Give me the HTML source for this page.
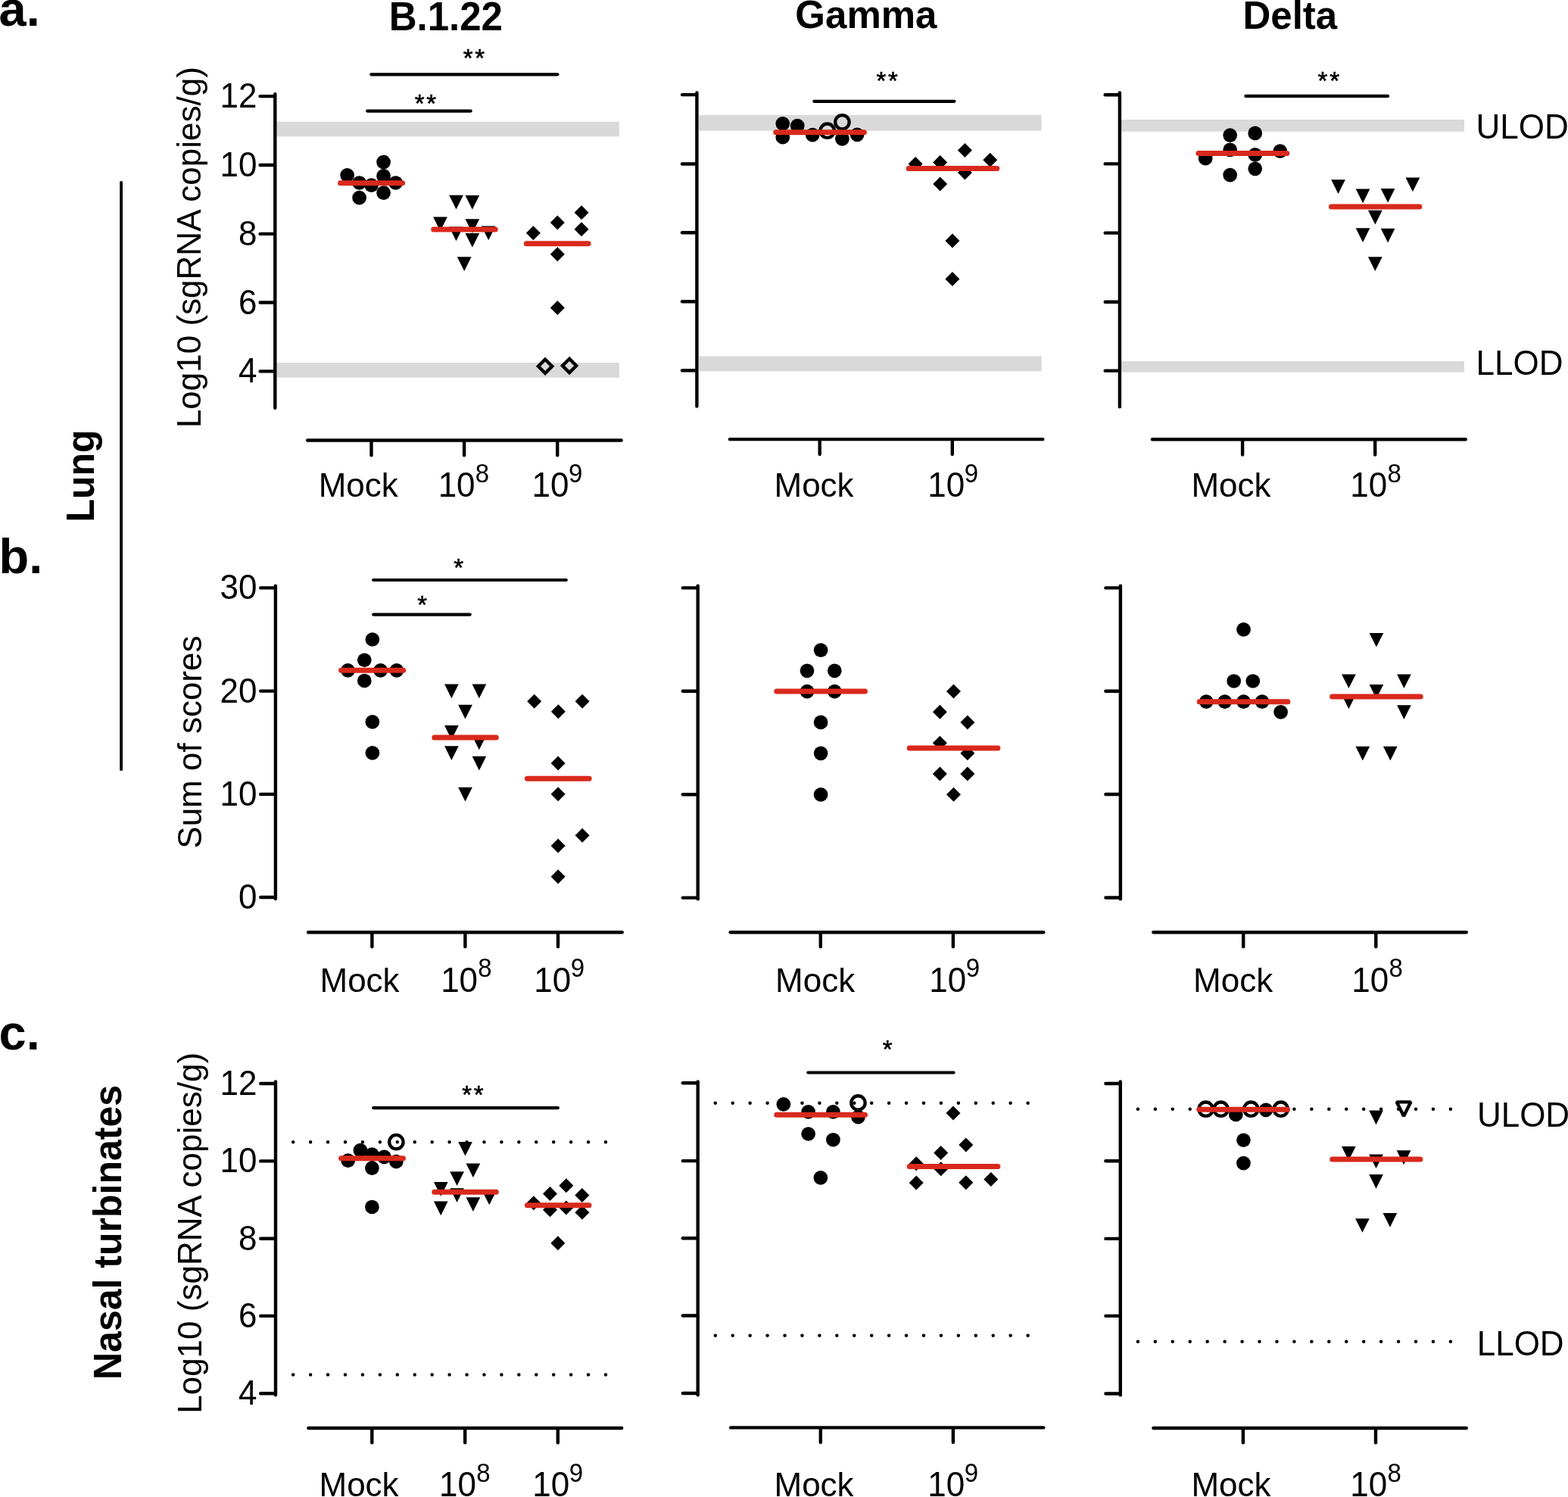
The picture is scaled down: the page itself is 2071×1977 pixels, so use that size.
<!DOCTYPE html>
<html lang="en">
<head>
<meta charset="utf-8">
<title>Figure</title>
<style>
html,body{margin:0;padding:0;background:#fff;}
body{width:2071px;height:1977px;overflow:hidden;}
svg{display:block;}
text{font-family:"Liberation Sans", sans-serif;fill:#000;}
</style>
</head>
<body>
<svg role="img" aria-label="Scatter dot plots of lung and nasal turbinate sgRNA and lung pathology scores for B.1.22, Gamma and Delta" width="2071" height="1977" viewBox="0 0 2071 1977">
<rect x="0" y="0" width="2071" height="1977" fill="#fff"/>
<text x="-1.50" y="34.30" font-size="65" font-weight="bold" text-anchor="start">a.</text>
<text x="-1.50" y="757.20" font-size="65" font-weight="bold" text-anchor="start">b.</text>
<text x="-1.50" y="1385.90" font-size="65" font-weight="bold" text-anchor="start">c.</text>
<text transform="translate(588.80 39.60) scale(1 1.04)" x="0" y="0" font-size="51" font-weight="bold" text-anchor="middle">B.1.22</text>
<text transform="translate(1143.90 37.30) scale(1 1.02)" x="0" y="0" font-size="51" font-weight="bold" text-anchor="middle">Gamma</text>
<text transform="translate(1703.80 37.50) scale(1 1.02)" x="0" y="0" font-size="51" font-weight="bold" text-anchor="middle">Delta</text>
<text transform="rotate(-90 124.00 628.50) translate(124.00 628.50) scale(1 1.02)" x="0" y="0" font-size="50" font-weight="bold" text-anchor="middle">Lung</text>
<line x1="160.10" y1="240.90" x2="160.10" y2="1016.20" stroke="#000" stroke-width="3.8" stroke-linecap="round"/>
<text transform="rotate(-90 159.90 1627.50) translate(159.90 1627.50) scale(1 1.02)" x="0" y="0" font-size="50" font-weight="bold" text-anchor="middle">Nasal turbinates</text>
<text x="264.70" y="565.10" font-size="44" text-anchor="start" transform="rotate(-90 264.70 565.10)">Log10 (sgRNA copies/g)</text>
<text x="265.70" y="1120.70" font-size="44" text-anchor="start" transform="rotate(-90 265.70 1120.70)">Sum of scores</text>
<text x="265.70" y="1866.80" font-size="44" text-anchor="start" transform="rotate(-90 265.70 1866.80)">Log10 (sgRNA copies/g)</text>
<text transform="translate(1949.60 182.80) scale(1 1.04)" x="0" y="0" font-size="44" text-anchor="start">ULOD</text>
<text transform="translate(1949.50 494.60) scale(1 1.04)" x="0" y="0" font-size="44" text-anchor="start">LLOD</text>
<text transform="translate(1950.90 1488.20) scale(1 1.04)" x="0" y="0" font-size="44" text-anchor="start">ULOD</text>
<text transform="translate(1950.70 1789.80) scale(1 1.04)" x="0" y="0" font-size="44" text-anchor="start">LLOD</text>
<rect x="365.50" y="160.70" width="452.40" height="19.70" fill="#d9d9d9"/>
<rect x="365.50" y="479.00" width="452.40" height="19.70" fill="#d9d9d9"/>
<line x1="363.30" y1="124.30" x2="363.30" y2="538.70" stroke="#000" stroke-width="4.4" stroke-linecap="round"/>
<line x1="343.60" y1="127.10" x2="362.30" y2="127.10" stroke="#000" stroke-width="4.4" stroke-linecap="round"/>
<line x1="343.60" y1="218.00" x2="362.30" y2="218.00" stroke="#000" stroke-width="4.4" stroke-linecap="round"/>
<line x1="343.60" y1="308.90" x2="362.30" y2="308.90" stroke="#000" stroke-width="4.4" stroke-linecap="round"/>
<line x1="343.60" y1="399.50" x2="362.30" y2="399.50" stroke="#000" stroke-width="4.4" stroke-linecap="round"/>
<line x1="343.60" y1="490.40" x2="362.30" y2="490.40" stroke="#000" stroke-width="4.4" stroke-linecap="round"/>
<text transform="translate(339.50 142.10) scale(1 1.04)" x="0" y="0" font-size="44" text-anchor="end">12</text>
<text transform="translate(339.50 233.00) scale(1 1.04)" x="0" y="0" font-size="44" text-anchor="end">10</text>
<text transform="translate(339.50 323.90) scale(1 1.04)" x="0" y="0" font-size="44" text-anchor="end">8</text>
<text transform="translate(339.50 414.50) scale(1 1.04)" x="0" y="0" font-size="44" text-anchor="end">6</text>
<text transform="translate(339.50 505.40) scale(1 1.04)" x="0" y="0" font-size="44" text-anchor="end">4</text>
<line x1="406.20" y1="581.50" x2="820.60" y2="581.50" stroke="#000" stroke-width="4.4" stroke-linecap="round"/>
<line x1="490.50" y1="582.40" x2="490.50" y2="601.30" stroke="#000" stroke-width="4.4" stroke-linecap="round"/>
<line x1="613.10" y1="582.40" x2="613.10" y2="601.30" stroke="#000" stroke-width="4.4" stroke-linecap="round"/>
<line x1="736.20" y1="582.40" x2="736.20" y2="601.30" stroke="#000" stroke-width="4.4" stroke-linecap="round"/>
<text x="420.71" y="656.40" font-size="44" text-anchor="start">Mock</text>
<text transform="translate(578.64 656.40) scale(1 1.04)" x="0" y="0" font-size="44">10<tspan dy="-18.8" dx="0.3" font-size="33">8</tspan></text>
<text transform="translate(702.54 656.40) scale(1 1.04)" x="0" y="0" font-size="44">10<tspan dy="-18.8" dx="-0.5" font-size="33">9</tspan></text>
<line x1="490.30" y1="98.30" x2="736.40" y2="98.30" stroke="#000" stroke-width="4.2" stroke-linecap="round"/>
<text x="627.25" y="88.20" font-size="33" text-anchor="middle" letter-spacing="2.7" stroke="#000" stroke-width="0.6">**</text>
<line x1="485.20" y1="146.60" x2="621.70" y2="146.60" stroke="#000" stroke-width="4.2" stroke-linecap="round"/>
<text x="563.25" y="147.70" font-size="33" text-anchor="middle" letter-spacing="2.7" stroke="#000" stroke-width="0.6">**</text>
<circle cx="458.61" cy="231.35" r="9.35" fill="#000"/>
<circle cx="474.60" cy="241.48" r="9.35" fill="#000"/>
<circle cx="490.59" cy="244.67" r="9.35" fill="#000"/>
<circle cx="506.58" cy="214.02" r="9.35" fill="#000"/>
<circle cx="506.58" cy="232.41" r="9.35" fill="#000"/>
<circle cx="506.58" cy="254.54" r="9.35" fill="#000"/>
<circle cx="474.60" cy="261.20" r="9.35" fill="#000"/>
<circle cx="522.57" cy="241.48" r="9.35" fill="#000"/>
<polygon points="593.18,257.73 611.88,257.73 602.53,276.43" fill="#000"/>
<polygon points="614.50,258.00 633.20,258.00 623.85,276.70" fill="#000"/>
<polygon points="572.13,286.52 590.83,286.52 581.48,305.22" fill="#000"/>
<polygon points="614.50,289.19 633.20,289.19 623.85,307.89" fill="#000"/>
<polygon points="635.83,298.51 654.53,298.51 645.18,317.21" fill="#000"/>
<polygon points="593.18,299.58 611.88,299.58 602.53,318.28" fill="#000"/>
<polygon points="614.50,308.11 633.20,308.11 623.85,326.81" fill="#000"/>
<polygon points="603.84,339.29 622.54,339.29 613.19,357.99" fill="#000"/>
<polygon points="704.35,298.34 713.85,307.84 704.35,317.34 694.85,307.84" fill="#000"/>
<polygon points="736.33,284.48 745.83,293.98 736.33,303.48 726.83,293.98" fill="#000"/>
<polygon points="768.05,271.16 777.55,280.66 768.05,290.16 758.55,280.66" fill="#000"/>
<polygon points="768.05,293.28 777.55,302.78 768.05,312.28 758.55,302.78" fill="#000"/>
<polygon points="736.33,326.33 745.83,335.83 736.33,345.33 726.83,335.83" fill="#000"/>
<polygon points="736.33,396.96 745.83,406.46 736.33,415.96 726.83,406.46" fill="#000"/>
<polygon points="720.07,474.65 729.17,483.75 720.07,492.85 710.97,483.75" fill="none" stroke="#000" stroke-width="4.4" stroke-linejoin="miter"/>
<polygon points="752.06,473.85 761.16,482.95 752.06,492.05 742.96,482.95" fill="none" stroke="#000" stroke-width="4.4" stroke-linejoin="miter"/>
<line x1="449.60" y1="241.70" x2="531.60" y2="241.70" stroke="#d9291c" stroke-width="7" stroke-linecap="round"/>
<line x1="572.70" y1="303.00" x2="654.20" y2="303.00" stroke="#d9291c" stroke-width="7" stroke-linecap="round"/>
<line x1="695.30" y1="321.70" x2="777.10" y2="321.70" stroke="#d9291c" stroke-width="7" stroke-linecap="round"/>
<rect x="922.80" y="151.90" width="452.90" height="20.80" fill="#d9d9d9"/>
<rect x="922.80" y="470.40" width="452.90" height="20.00" fill="#d9d9d9"/>
<line x1="920.40" y1="122.50" x2="920.40" y2="536.50" stroke="#000" stroke-width="4.4" stroke-linecap="round"/>
<line x1="901.00" y1="125.10" x2="919.40" y2="125.10" stroke="#000" stroke-width="4.4" stroke-linecap="round"/>
<line x1="901.00" y1="216.50" x2="919.40" y2="216.50" stroke="#000" stroke-width="4.4" stroke-linecap="round"/>
<line x1="901.00" y1="307.20" x2="919.40" y2="307.20" stroke="#000" stroke-width="4.4" stroke-linecap="round"/>
<line x1="901.00" y1="398.30" x2="919.40" y2="398.30" stroke="#000" stroke-width="4.4" stroke-linecap="round"/>
<line x1="901.00" y1="489.20" x2="919.40" y2="489.20" stroke="#000" stroke-width="4.4" stroke-linecap="round"/>
<line x1="963.90" y1="580.10" x2="1377.30" y2="580.10" stroke="#000" stroke-width="4.4" stroke-linecap="round"/>
<line x1="1082.70" y1="581.00" x2="1082.70" y2="599.90" stroke="#000" stroke-width="4.4" stroke-linecap="round"/>
<line x1="1257.80" y1="581.00" x2="1257.80" y2="599.90" stroke="#000" stroke-width="4.4" stroke-linecap="round"/>
<text x="1022.51" y="656.40" font-size="44" text-anchor="start">Mock</text>
<text transform="translate(1225.24 656.40) scale(1 1.04)" x="0" y="0" font-size="44">10<tspan dy="-18.8" dx="-0.5" font-size="33">9</tspan></text>
<line x1="1075.30" y1="133.80" x2="1260.40" y2="133.80" stroke="#000" stroke-width="4.2" stroke-linecap="round"/>
<text x="1173.05" y="117.70" font-size="33" text-anchor="middle" letter-spacing="2.7" stroke="#000" stroke-width="0.6">**</text>
<circle cx="1033.78" cy="163.38" r="9.35" fill="#000"/>
<circle cx="1033.78" cy="181.24" r="9.35" fill="#000"/>
<circle cx="1053.23" cy="166.05" r="9.35" fill="#000"/>
<circle cx="1073.22" cy="178.04" r="9.35" fill="#000"/>
<circle cx="1112.40" cy="183.37" r="9.35" fill="#000"/>
<circle cx="1132.13" cy="177.78" r="9.35" fill="#000"/>
<circle cx="1092.68" cy="172.71" r="9.2" fill="none" stroke="#000" stroke-width="4.3"/>
<circle cx="1112.40" cy="161.25" r="9.2" fill="none" stroke="#000" stroke-width="4.3"/>
<polygon points="1209.15,206.92 1218.65,216.42 1209.15,225.92 1199.65,216.42" fill="#000"/>
<polygon points="1241.67,205.06 1251.17,214.56 1241.67,224.06 1232.17,214.56" fill="#000"/>
<polygon points="1274.45,189.06 1283.95,198.56 1274.45,208.06 1264.95,198.56" fill="#000"/>
<polygon points="1307.77,201.86 1317.27,211.36 1307.77,220.86 1298.27,211.36" fill="#000"/>
<polygon points="1274.45,218.38 1283.95,227.88 1274.45,237.38 1264.95,227.88" fill="#000"/>
<polygon points="1241.67,233.58 1251.17,243.08 1241.67,252.58 1232.17,243.08" fill="#000"/>
<polygon points="1257.93,308.47 1267.43,317.97 1257.93,327.47 1248.43,317.97" fill="#000"/>
<polygon points="1257.93,359.11 1267.43,368.61 1257.93,378.11 1248.43,368.61" fill="#000"/>
<line x1="1024.70" y1="174.80" x2="1141.40" y2="174.80" stroke="#d9291c" stroke-width="7" stroke-linecap="round"/>
<line x1="1200.10" y1="222.50" x2="1316.80" y2="222.50" stroke="#d9291c" stroke-width="7" stroke-linecap="round"/>
<rect x="1480.90" y="158.00" width="453.10" height="15.80" fill="#d9d9d9"/>
<rect x="1480.90" y="477.10" width="453.10" height="14.60" fill="#d9d9d9"/>
<line x1="1478.90" y1="122.50" x2="1478.90" y2="537.30" stroke="#000" stroke-width="4.4" stroke-linecap="round"/>
<line x1="1459.70" y1="125.30" x2="1477.90" y2="125.30" stroke="#000" stroke-width="4.4" stroke-linecap="round"/>
<line x1="1459.70" y1="216.40" x2="1477.90" y2="216.40" stroke="#000" stroke-width="4.4" stroke-linecap="round"/>
<line x1="1459.70" y1="307.60" x2="1477.90" y2="307.60" stroke="#000" stroke-width="4.4" stroke-linecap="round"/>
<line x1="1459.70" y1="398.70" x2="1477.90" y2="398.70" stroke="#000" stroke-width="4.4" stroke-linecap="round"/>
<line x1="1459.70" y1="489.60" x2="1477.90" y2="489.60" stroke="#000" stroke-width="4.4" stroke-linecap="round"/>
<line x1="1522.00" y1="580.30" x2="1935.70" y2="580.30" stroke="#000" stroke-width="4.4" stroke-linecap="round"/>
<line x1="1641.10" y1="581.20" x2="1641.10" y2="600.50" stroke="#000" stroke-width="4.4" stroke-linecap="round"/>
<line x1="1816.20" y1="581.20" x2="1816.20" y2="600.50" stroke="#000" stroke-width="4.4" stroke-linecap="round"/>
<text x="1573.41" y="656.40" font-size="44" text-anchor="start">Mock</text>
<text transform="translate(1783.34 656.40) scale(1 1.04)" x="0" y="0" font-size="44">10<tspan dy="-18.8" dx="0.3" font-size="33">8</tspan></text>
<line x1="1645.40" y1="126.90" x2="1833.10" y2="126.90" stroke="#000" stroke-width="4.2" stroke-linecap="round"/>
<text x="1756.15" y="117.70" font-size="33" text-anchor="middle" letter-spacing="2.7" stroke="#000" stroke-width="0.6">**</text>
<circle cx="1624.67" cy="178.58" r="9.35" fill="#000"/>
<circle cx="1657.72" cy="175.91" r="9.35" fill="#000"/>
<circle cx="1624.67" cy="197.77" r="9.35" fill="#000"/>
<circle cx="1690.77" cy="199.63" r="9.35" fill="#000"/>
<circle cx="1657.72" cy="204.43" r="9.35" fill="#000"/>
<circle cx="1592.16" cy="209.23" r="9.35" fill="#000"/>
<circle cx="1657.72" cy="222.82" r="9.35" fill="#000"/>
<circle cx="1624.67" cy="231.08" r="9.35" fill="#000"/>
<polygon points="1758.18,237.21 1776.88,237.21 1767.53,255.91" fill="#000"/>
<polygon points="1856.53,234.55 1875.23,234.55 1865.88,253.25" fill="#000"/>
<polygon points="1790.70,249.47 1809.40,249.47 1800.05,268.17" fill="#000"/>
<polygon points="1823.75,248.94 1842.45,248.94 1833.10,267.64" fill="#000"/>
<polygon points="1806.96,277.72 1825.66,277.72 1816.31,296.42" fill="#000"/>
<polygon points="1790.70,301.18 1809.40,301.18 1800.05,319.88" fill="#000"/>
<polygon points="1823.75,301.71 1842.45,301.71 1833.10,320.41" fill="#000"/>
<polygon points="1806.96,339.29 1825.66,339.29 1816.31,357.99" fill="#000"/>
<line x1="1582.90" y1="202.60" x2="1699.80" y2="202.60" stroke="#d9291c" stroke-width="7" stroke-linecap="round"/>
<line x1="1758.50" y1="272.90" x2="1874.90" y2="272.90" stroke="#d9291c" stroke-width="7" stroke-linecap="round"/>
<line x1="363.90" y1="773.60" x2="363.90" y2="1187.10" stroke="#000" stroke-width="4.4" stroke-linecap="round"/>
<line x1="344.20" y1="776.40" x2="362.90" y2="776.40" stroke="#000" stroke-width="4.4" stroke-linecap="round"/>
<line x1="344.20" y1="912.60" x2="362.90" y2="912.60" stroke="#000" stroke-width="4.4" stroke-linecap="round"/>
<line x1="344.20" y1="1048.90" x2="362.90" y2="1048.90" stroke="#000" stroke-width="4.4" stroke-linecap="round"/>
<line x1="344.20" y1="1185.00" x2="362.90" y2="1185.00" stroke="#000" stroke-width="4.4" stroke-linecap="round"/>
<text transform="translate(339.50 791.40) scale(1 1.04)" x="0" y="0" font-size="44" text-anchor="end">30</text>
<text transform="translate(339.50 927.60) scale(1 1.04)" x="0" y="0" font-size="44" text-anchor="end">20</text>
<text transform="translate(339.50 1063.90) scale(1 1.04)" x="0" y="0" font-size="44" text-anchor="end">10</text>
<text transform="translate(339.50 1200.00) scale(1 1.04)" x="0" y="0" font-size="44" text-anchor="end">0</text>
<line x1="407.10" y1="1231.30" x2="821.70" y2="1231.30" stroke="#000" stroke-width="4.4" stroke-linecap="round"/>
<line x1="491.40" y1="1232.20" x2="491.40" y2="1250.30" stroke="#000" stroke-width="4.4" stroke-linecap="round"/>
<line x1="614.40" y1="1232.20" x2="614.40" y2="1250.30" stroke="#000" stroke-width="4.4" stroke-linecap="round"/>
<line x1="737.00" y1="1232.20" x2="737.00" y2="1250.30" stroke="#000" stroke-width="4.4" stroke-linecap="round"/>
<text x="422.51" y="1309.50" font-size="44" text-anchor="start">Mock</text>
<text transform="translate(582.14 1309.50) scale(1 1.04)" x="0" y="0" font-size="44">10<tspan dy="-18.8" dx="0.3" font-size="33">8</tspan></text>
<text transform="translate(705.24 1309.50) scale(1 1.04)" x="0" y="0" font-size="44">10<tspan dy="-18.8" dx="-0.5" font-size="33">9</tspan></text>
<line x1="493.20" y1="766.00" x2="747.80" y2="766.00" stroke="#000" stroke-width="4.2" stroke-linecap="round"/>
<text x="607.00" y="761.10" font-size="33" text-anchor="middle" letter-spacing="2.7" stroke="#000" stroke-width="0.6">*</text>
<line x1="493.20" y1="811.60" x2="620.70" y2="811.60" stroke="#000" stroke-width="4.2" stroke-linecap="round"/>
<text x="558.90" y="809.90" font-size="33" text-anchor="middle" letter-spacing="2.7" stroke="#000" stroke-width="0.6">*</text>
<circle cx="491.90" cy="844.50" r="9.35" fill="#000"/>
<circle cx="481.30" cy="871.74" r="9.35" fill="#000"/>
<circle cx="459.40" cy="885.36" r="9.35" fill="#000"/>
<circle cx="502.60" cy="885.36" r="9.35" fill="#000"/>
<circle cx="523.90" cy="885.36" r="9.35" fill="#000"/>
<circle cx="481.30" cy="898.98" r="9.35" fill="#000"/>
<circle cx="491.90" cy="953.46" r="9.35" fill="#000"/>
<circle cx="491.90" cy="994.32" r="9.35" fill="#000"/>
<polygon points="587.05,903.50 605.75,903.50 596.40,922.20" fill="#000"/>
<polygon points="623.55,903.50 642.25,903.50 632.90,922.20" fill="#000"/>
<polygon points="605.15,930.74 623.85,930.74 614.50,949.44" fill="#000"/>
<polygon points="587.05,957.98 605.75,957.98 596.40,976.68" fill="#000"/>
<polygon points="623.55,971.60 642.25,971.60 632.90,990.30" fill="#000"/>
<polygon points="587.05,985.22 605.75,985.22 596.40,1003.92" fill="#000"/>
<polygon points="623.55,998.84 642.25,998.84 632.90,1017.54" fill="#000"/>
<polygon points="605.15,1039.70 623.85,1039.70 614.50,1058.40" fill="#000"/>
<polygon points="705.70,916.72 715.20,926.22 705.70,935.72 696.20,926.22" fill="#000"/>
<polygon points="769.10,916.72 778.60,926.22 769.10,935.72 759.60,926.22" fill="#000"/>
<polygon points="737.40,930.34 746.90,939.84 737.40,949.34 727.90,939.84" fill="#000"/>
<polygon points="737.10,998.44 746.60,1007.94 737.10,1017.44 727.60,1007.94" fill="#000"/>
<polygon points="737.10,1039.30 746.60,1048.80 737.10,1058.30 727.60,1048.80" fill="#000"/>
<polygon points="769.10,1093.78 778.60,1103.28 769.10,1112.78 759.60,1103.28" fill="#000"/>
<polygon points="737.10,1107.40 746.60,1116.90 737.10,1126.40 727.60,1116.90" fill="#000"/>
<polygon points="737.10,1148.26 746.60,1157.76 737.10,1167.26 727.60,1157.76" fill="#000"/>
<line x1="450.60" y1="885.36" x2="532.70" y2="885.36" stroke="#d9291c" stroke-width="7" stroke-linecap="round"/>
<line x1="573.80" y1="973.89" x2="655.30" y2="973.89" stroke="#d9291c" stroke-width="7" stroke-linecap="round"/>
<line x1="696.40" y1="1028.37" x2="778.10" y2="1028.37" stroke="#d9291c" stroke-width="7" stroke-linecap="round"/>
<line x1="921.70" y1="773.60" x2="921.70" y2="1187.30" stroke="#000" stroke-width="4.4" stroke-linecap="round"/>
<line x1="901.80" y1="776.40" x2="920.70" y2="776.40" stroke="#000" stroke-width="4.4" stroke-linecap="round"/>
<line x1="901.80" y1="912.80" x2="920.70" y2="912.80" stroke="#000" stroke-width="4.4" stroke-linecap="round"/>
<line x1="901.80" y1="1049.30" x2="920.70" y2="1049.30" stroke="#000" stroke-width="4.4" stroke-linecap="round"/>
<line x1="901.80" y1="1185.60" x2="920.70" y2="1185.60" stroke="#000" stroke-width="4.4" stroke-linecap="round"/>
<line x1="964.70" y1="1231.30" x2="1378.30" y2="1231.30" stroke="#000" stroke-width="4.4" stroke-linecap="round"/>
<line x1="1083.80" y1="1232.20" x2="1083.80" y2="1250.30" stroke="#000" stroke-width="4.4" stroke-linecap="round"/>
<line x1="1258.90" y1="1232.20" x2="1258.90" y2="1250.30" stroke="#000" stroke-width="4.4" stroke-linecap="round"/>
<text x="1024.11" y="1309.50" font-size="44" text-anchor="start">Mock</text>
<text transform="translate(1227.34 1309.50) scale(1 1.04)" x="0" y="0" font-size="44">10<tspan dy="-18.8" dx="-0.5" font-size="33">9</tspan></text>
<circle cx="1084.10" cy="858.62" r="9.35" fill="#000"/>
<circle cx="1066.00" cy="885.86" r="9.35" fill="#000"/>
<circle cx="1102.30" cy="885.86" r="9.35" fill="#000"/>
<circle cx="1066.00" cy="913.10" r="9.35" fill="#000"/>
<circle cx="1102.30" cy="913.10" r="9.35" fill="#000"/>
<circle cx="1084.10" cy="953.96" r="9.35" fill="#000"/>
<circle cx="1084.10" cy="994.82" r="9.35" fill="#000"/>
<circle cx="1084.10" cy="1049.30" r="9.35" fill="#000"/>
<polygon points="1259.50,903.60 1269.00,913.10 1259.50,922.60 1250.00,913.10" fill="#000"/>
<polygon points="1241.40,930.84 1250.90,940.34 1241.40,949.84 1231.90,940.34" fill="#000"/>
<polygon points="1277.90,944.46 1287.40,953.96 1277.90,963.46 1268.40,953.96" fill="#000"/>
<polygon points="1241.40,971.70 1250.90,981.20 1241.40,990.70 1231.90,981.20" fill="#000"/>
<polygon points="1277.90,985.32 1287.40,994.82 1277.90,1004.32 1268.40,994.82" fill="#000"/>
<polygon points="1241.40,1012.56 1250.90,1022.06 1241.40,1031.56 1231.90,1022.06" fill="#000"/>
<polygon points="1277.90,1012.56 1287.40,1022.06 1277.90,1031.56 1268.40,1022.06" fill="#000"/>
<polygon points="1259.50,1039.80 1269.00,1049.30 1259.50,1058.80 1250.00,1049.30" fill="#000"/>
<line x1="1025.80" y1="913.10" x2="1142.50" y2="913.10" stroke="#d9291c" stroke-width="7" stroke-linecap="round"/>
<line x1="1201.20" y1="988.01" x2="1317.90" y2="988.01" stroke="#d9291c" stroke-width="7" stroke-linecap="round"/>
<line x1="1479.90" y1="773.60" x2="1479.90" y2="1187.30" stroke="#000" stroke-width="4.4" stroke-linecap="round"/>
<line x1="1460.40" y1="776.40" x2="1478.90" y2="776.40" stroke="#000" stroke-width="4.4" stroke-linecap="round"/>
<line x1="1460.40" y1="912.80" x2="1478.90" y2="912.80" stroke="#000" stroke-width="4.4" stroke-linecap="round"/>
<line x1="1460.40" y1="1049.00" x2="1478.90" y2="1049.00" stroke="#000" stroke-width="4.4" stroke-linecap="round"/>
<line x1="1460.40" y1="1185.50" x2="1478.90" y2="1185.50" stroke="#000" stroke-width="4.4" stroke-linecap="round"/>
<line x1="1523.40" y1="1231.30" x2="1936.70" y2="1231.30" stroke="#000" stroke-width="4.4" stroke-linecap="round"/>
<line x1="1642.20" y1="1232.20" x2="1642.20" y2="1250.30" stroke="#000" stroke-width="4.4" stroke-linecap="round"/>
<line x1="1817.30" y1="1232.20" x2="1817.30" y2="1250.30" stroke="#000" stroke-width="4.4" stroke-linecap="round"/>
<text x="1576.11" y="1309.50" font-size="44" text-anchor="start">Mock</text>
<text transform="translate(1785.24 1309.50) scale(1 1.04)" x="0" y="0" font-size="44">10<tspan dy="-18.8" dx="0.3" font-size="33">8</tspan></text>
<circle cx="1642.50" cy="831.38" r="9.35" fill="#000"/>
<circle cx="1629.70" cy="899.48" r="9.35" fill="#000"/>
<circle cx="1654.80" cy="899.48" r="9.35" fill="#000"/>
<circle cx="1593.20" cy="926.72" r="9.35" fill="#000"/>
<circle cx="1617.70" cy="926.72" r="9.35" fill="#000"/>
<circle cx="1642.50" cy="926.72" r="9.35" fill="#000"/>
<circle cx="1667.00" cy="926.72" r="9.35" fill="#000"/>
<circle cx="1691.60" cy="940.34" r="9.35" fill="#000"/>
<polygon points="1808.55,835.90 1827.25,835.90 1817.90,854.60" fill="#000"/>
<polygon points="1772.05,890.38 1790.75,890.38 1781.40,909.08" fill="#000"/>
<polygon points="1845.05,890.38 1863.75,890.38 1854.40,909.08" fill="#000"/>
<polygon points="1808.55,904.00 1827.25,904.00 1817.90,922.70" fill="#000"/>
<polygon points="1772.05,917.62 1790.75,917.62 1781.40,936.32" fill="#000"/>
<polygon points="1845.05,931.24 1863.75,931.24 1854.40,949.94" fill="#000"/>
<polygon points="1790.45,985.72 1809.15,985.72 1799.80,1004.42" fill="#000"/>
<polygon points="1826.95,985.72 1845.65,985.72 1836.30,1004.42" fill="#000"/>
<line x1="1584.20" y1="926.72" x2="1700.90" y2="926.72" stroke="#d9291c" stroke-width="7" stroke-linecap="round"/>
<line x1="1759.60" y1="919.91" x2="1876.20" y2="919.91" stroke="#d9291c" stroke-width="7" stroke-linecap="round"/>
<line x1="387.20" y1="1508.20" x2="800.50" y2="1508.20" stroke="#000" stroke-width="4.5" stroke-linecap="round" stroke-dasharray="0 22.933"/>
<line x1="387.20" y1="1815.50" x2="800.50" y2="1815.50" stroke="#000" stroke-width="4.5" stroke-linecap="round" stroke-dasharray="0 22.933"/>
<line x1="364.00" y1="1428.50" x2="364.00" y2="1842.20" stroke="#000" stroke-width="4.4" stroke-linecap="round"/>
<line x1="344.20" y1="1431.00" x2="363.00" y2="1431.00" stroke="#000" stroke-width="4.4" stroke-linecap="round"/>
<line x1="344.20" y1="1533.40" x2="363.00" y2="1533.40" stroke="#000" stroke-width="4.4" stroke-linecap="round"/>
<line x1="344.20" y1="1635.80" x2="363.00" y2="1635.80" stroke="#000" stroke-width="4.4" stroke-linecap="round"/>
<line x1="344.20" y1="1737.90" x2="363.00" y2="1737.90" stroke="#000" stroke-width="4.4" stroke-linecap="round"/>
<line x1="344.20" y1="1840.30" x2="363.00" y2="1840.30" stroke="#000" stroke-width="4.4" stroke-linecap="round"/>
<text transform="translate(339.50 1446.00) scale(1 1.04)" x="0" y="0" font-size="44" text-anchor="end">12</text>
<text transform="translate(339.50 1548.40) scale(1 1.04)" x="0" y="0" font-size="44" text-anchor="end">10</text>
<text transform="translate(339.50 1650.80) scale(1 1.04)" x="0" y="0" font-size="44" text-anchor="end">8</text>
<text transform="translate(339.50 1752.90) scale(1 1.04)" x="0" y="0" font-size="44" text-anchor="end">6</text>
<text transform="translate(339.50 1855.30) scale(1 1.04)" x="0" y="0" font-size="44" text-anchor="end">4</text>
<line x1="407.40" y1="1886.00" x2="821.20" y2="1886.00" stroke="#000" stroke-width="4.4" stroke-linecap="round"/>
<line x1="491.30" y1="1886.90" x2="491.30" y2="1905.30" stroke="#000" stroke-width="4.4" stroke-linecap="round"/>
<line x1="614.20" y1="1886.90" x2="614.20" y2="1905.30" stroke="#000" stroke-width="4.4" stroke-linecap="round"/>
<line x1="736.80" y1="1886.90" x2="736.80" y2="1905.30" stroke="#000" stroke-width="4.4" stroke-linecap="round"/>
<text x="421.51" y="1976.40" font-size="44" text-anchor="start">Mock</text>
<text transform="translate(579.94 1976.40) scale(1 1.04)" x="0" y="0" font-size="44">10<tspan dy="-18.8" dx="0.3" font-size="33">8</tspan></text>
<text transform="translate(703.34 1976.40) scale(1 1.04)" x="0" y="0" font-size="44">10<tspan dy="-18.8" dx="-0.5" font-size="33">9</tspan></text>
<line x1="493.20" y1="1463.10" x2="736.90" y2="1463.10" stroke="#000" stroke-width="4.2" stroke-linecap="round"/>
<text x="625.85" y="1456.70" font-size="33" text-anchor="middle" letter-spacing="2.7" stroke="#000" stroke-width="0.6">**</text>
<circle cx="459.67" cy="1532.68" r="9.35" fill="#000"/>
<circle cx="475.93" cy="1519.09" r="9.35" fill="#000"/>
<circle cx="491.39" cy="1524.68" r="9.35" fill="#000"/>
<circle cx="507.38" cy="1527.88" r="9.35" fill="#000"/>
<circle cx="523.37" cy="1534.01" r="9.35" fill="#000"/>
<circle cx="491.39" cy="1542.54" r="9.35" fill="#000"/>
<circle cx="491.39" cy="1593.98" r="9.35" fill="#000"/>
<circle cx="523.37" cy="1508.16" r="9.2" fill="none" stroke="#000" stroke-width="4.3"/>
<polygon points="605.18,1507.89 623.88,1507.89 614.53,1526.59" fill="#000"/>
<polygon points="615.57,1536.41 634.27,1536.41 624.92,1555.11" fill="#000"/>
<polygon points="594.25,1547.34 612.95,1547.34 603.60,1566.04" fill="#000"/>
<polygon points="572.93,1560.93 591.63,1560.93 582.28,1579.63" fill="#000"/>
<polygon points="594.25,1569.20 612.95,1569.20 603.60,1587.90" fill="#000"/>
<polygon points="636.89,1572.66 655.59,1572.66 646.24,1591.36" fill="#000"/>
<polygon points="615.57,1581.19 634.27,1581.19 624.92,1599.89" fill="#000"/>
<polygon points="572.93,1586.52 591.63,1586.52 582.28,1605.22" fill="#000"/>
<polygon points="747.79,1556.23 757.29,1565.73 747.79,1575.23 738.29,1565.73" fill="#000"/>
<polygon points="726.47,1566.89 735.97,1576.39 726.47,1585.89 716.97,1576.39" fill="#000"/>
<polygon points="768.85,1569.02 778.35,1578.52 768.85,1588.02 759.35,1578.52" fill="#000"/>
<polygon points="704.88,1579.15 714.38,1588.65 704.88,1598.15 695.38,1588.65" fill="#000"/>
<polygon points="726.47,1588.21 735.97,1597.71 726.47,1607.21 716.97,1597.71" fill="#000"/>
<polygon points="747.79,1585.55 757.29,1595.05 747.79,1604.55 738.29,1595.05" fill="#000"/>
<polygon points="768.85,1591.68 778.35,1601.18 768.85,1610.68 759.35,1601.18" fill="#000"/>
<polygon points="736.86,1632.19 746.36,1641.69 736.86,1651.19 727.36,1641.69" fill="#000"/>
<line x1="450.60" y1="1529.70" x2="532.40" y2="1529.70" stroke="#d9291c" stroke-width="7" stroke-linecap="round"/>
<line x1="573.80" y1="1574.30" x2="655.30" y2="1574.30" stroke="#d9291c" stroke-width="7" stroke-linecap="round"/>
<line x1="696.40" y1="1591.80" x2="777.90" y2="1591.80" stroke="#d9291c" stroke-width="7" stroke-linecap="round"/>
<line x1="944.80" y1="1456.70" x2="1358.10" y2="1456.70" stroke="#000" stroke-width="4.5" stroke-linecap="round" stroke-dasharray="0 22.933"/>
<line x1="944.80" y1="1763.80" x2="1358.10" y2="1763.80" stroke="#000" stroke-width="4.5" stroke-linecap="round" stroke-dasharray="0 22.933"/>
<line x1="921.70" y1="1428.50" x2="921.70" y2="1842.20" stroke="#000" stroke-width="4.4" stroke-linecap="round"/>
<line x1="901.80" y1="1430.30" x2="920.70" y2="1430.30" stroke="#000" stroke-width="4.4" stroke-linecap="round"/>
<line x1="901.80" y1="1533.10" x2="920.70" y2="1533.10" stroke="#000" stroke-width="4.4" stroke-linecap="round"/>
<line x1="901.80" y1="1635.30" x2="920.70" y2="1635.30" stroke="#000" stroke-width="4.4" stroke-linecap="round"/>
<line x1="901.80" y1="1737.50" x2="920.70" y2="1737.50" stroke="#000" stroke-width="4.4" stroke-linecap="round"/>
<line x1="901.80" y1="1840.00" x2="920.70" y2="1840.00" stroke="#000" stroke-width="4.4" stroke-linecap="round"/>
<line x1="965.20" y1="1885.40" x2="1378.30" y2="1885.40" stroke="#000" stroke-width="4.4" stroke-linecap="round"/>
<line x1="1083.80" y1="1886.30" x2="1083.80" y2="1904.80" stroke="#000" stroke-width="4.4" stroke-linecap="round"/>
<line x1="1258.90" y1="1886.30" x2="1258.90" y2="1904.80" stroke="#000" stroke-width="4.4" stroke-linecap="round"/>
<text x="1022.51" y="1976.40" font-size="44" text-anchor="start">Mock</text>
<text transform="translate(1225.24 1976.40) scale(1 1.04)" x="0" y="0" font-size="44">10<tspan dy="-18.8" dx="-0.5" font-size="33">9</tspan></text>
<line x1="1067.30" y1="1416.50" x2="1259.60" y2="1416.50" stroke="#000" stroke-width="4.2" stroke-linecap="round"/>
<text x="1173.60" y="1396.60" font-size="33" text-anchor="middle" letter-spacing="2.7" stroke="#000" stroke-width="0.6">*</text>
<circle cx="1034.84" cy="1458.32" r="9.35" fill="#000"/>
<circle cx="1067.63" cy="1468.45" r="9.35" fill="#000"/>
<circle cx="1100.41" cy="1468.45" r="9.35" fill="#000"/>
<circle cx="1133.46" cy="1475.11" r="9.35" fill="#000"/>
<circle cx="1067.63" cy="1497.50" r="9.35" fill="#000"/>
<circle cx="1100.41" cy="1505.23" r="9.35" fill="#000"/>
<circle cx="1083.89" cy="1555.34" r="9.35" fill="#000"/>
<circle cx="1133.46" cy="1456.45" r="9.2" fill="none" stroke="#000" stroke-width="4.3"/>
<polygon points="1259.00,1460.55 1268.50,1470.05 1259.00,1479.55 1249.50,1470.05" fill="#000"/>
<polygon points="1275.79,1502.39 1285.29,1511.89 1275.79,1521.39 1266.29,1511.89" fill="#000"/>
<polygon points="1242.74,1513.05 1252.24,1522.55 1242.74,1532.05 1233.24,1522.55" fill="#000"/>
<polygon points="1210.22,1527.18 1219.72,1536.68 1210.22,1546.18 1200.72,1536.68" fill="#000"/>
<polygon points="1242.74,1534.37 1252.24,1543.87 1242.74,1553.37 1233.24,1543.87" fill="#000"/>
<polygon points="1210.22,1552.50 1219.72,1562.00 1210.22,1571.50 1200.72,1562.00" fill="#000"/>
<polygon points="1275.79,1552.23 1285.29,1561.73 1275.79,1571.23 1266.29,1561.73" fill="#000"/>
<polygon points="1308.84,1547.97 1318.34,1557.47 1308.84,1566.97 1299.34,1557.47" fill="#000"/>
<line x1="1025.80" y1="1472.20" x2="1142.50" y2="1472.20" stroke="#d9291c" stroke-width="7" stroke-linecap="round"/>
<line x1="1201.20" y1="1540.40" x2="1317.90" y2="1540.40" stroke="#d9291c" stroke-width="7" stroke-linecap="round"/>
<line x1="1502.90" y1="1464.70" x2="1916.40" y2="1464.70" stroke="#000" stroke-width="4.5" stroke-linecap="round" stroke-dasharray="0 22.944"/>
<line x1="1502.90" y1="1771.70" x2="1916.40" y2="1771.70" stroke="#000" stroke-width="4.5" stroke-linecap="round" stroke-dasharray="0 22.944"/>
<line x1="1479.80" y1="1428.40" x2="1479.80" y2="1842.40" stroke="#000" stroke-width="4.4" stroke-linecap="round"/>
<line x1="1460.40" y1="1431.00" x2="1478.80" y2="1431.00" stroke="#000" stroke-width="4.4" stroke-linecap="round"/>
<line x1="1460.40" y1="1533.20" x2="1478.80" y2="1533.20" stroke="#000" stroke-width="4.4" stroke-linecap="round"/>
<line x1="1460.40" y1="1635.90" x2="1478.80" y2="1635.90" stroke="#000" stroke-width="4.4" stroke-linecap="round"/>
<line x1="1460.40" y1="1737.90" x2="1478.80" y2="1737.90" stroke="#000" stroke-width="4.4" stroke-linecap="round"/>
<line x1="1460.40" y1="1840.50" x2="1478.80" y2="1840.50" stroke="#000" stroke-width="4.4" stroke-linecap="round"/>
<line x1="1523.40" y1="1886.00" x2="1936.70" y2="1886.00" stroke="#000" stroke-width="4.4" stroke-linecap="round"/>
<line x1="1641.90" y1="1886.90" x2="1641.90" y2="1905.30" stroke="#000" stroke-width="4.4" stroke-linecap="round"/>
<line x1="1817.00" y1="1886.90" x2="1817.00" y2="1905.30" stroke="#000" stroke-width="4.4" stroke-linecap="round"/>
<text x="1573.41" y="1976.40" font-size="44" text-anchor="start">Mock</text>
<text transform="translate(1783.34 1976.40) scale(1 1.04)" x="0" y="0" font-size="44">10<tspan dy="-18.8" dx="0.3" font-size="33">8</tspan></text>
<circle cx="1672.00" cy="1465.78" r="9.35" fill="#000"/>
<circle cx="1632.29" cy="1471.91" r="9.35" fill="#000"/>
<circle cx="1642.42" cy="1505.76" r="9.35" fill="#000"/>
<circle cx="1642.42" cy="1536.15" r="9.35" fill="#000"/>
<circle cx="1592.58" cy="1464.72" r="9.2" fill="none" stroke="#000" stroke-width="4.3"/>
<circle cx="1612.57" cy="1464.72" r="9.2" fill="none" stroke="#000" stroke-width="4.3"/>
<circle cx="1652.28" cy="1464.72" r="9.2" fill="none" stroke="#000" stroke-width="4.3"/>
<circle cx="1691.73" cy="1464.72" r="9.2" fill="none" stroke="#000" stroke-width="4.3"/>
<polygon points="1808.18,1466.58 1826.88,1466.58 1817.53,1485.28" fill="#000"/>
<polygon points="1771.93,1514.02 1790.63,1514.02 1781.28,1532.72" fill="#000"/>
<polygon points="1808.18,1524.42 1826.88,1524.42 1817.53,1543.12" fill="#000"/>
<polygon points="1844.69,1519.35 1863.39,1519.35 1854.04,1538.05" fill="#000"/>
<polygon points="1808.18,1551.07 1826.88,1551.07 1817.53,1569.77" fill="#000"/>
<polygon points="1826.57,1601.98 1845.27,1601.98 1835.92,1620.68" fill="#000"/>
<polygon points="1790.06,1609.17 1808.76,1609.17 1799.41,1627.87" fill="#000"/>
<polygon points="1844.69,1455.35 1863.39,1455.35 1854.04,1474.05" fill="none" stroke="#000" stroke-width="4.4" stroke-linejoin="bevel"/>
<line x1="1583.80" y1="1465.20" x2="1700.50" y2="1465.20" stroke="#d9291c" stroke-width="7" stroke-linecap="round"/>
<line x1="1759.70" y1="1531.10" x2="1875.90" y2="1531.10" stroke="#d9291c" stroke-width="7" stroke-linecap="round"/>
</svg>
</body>
</html>
